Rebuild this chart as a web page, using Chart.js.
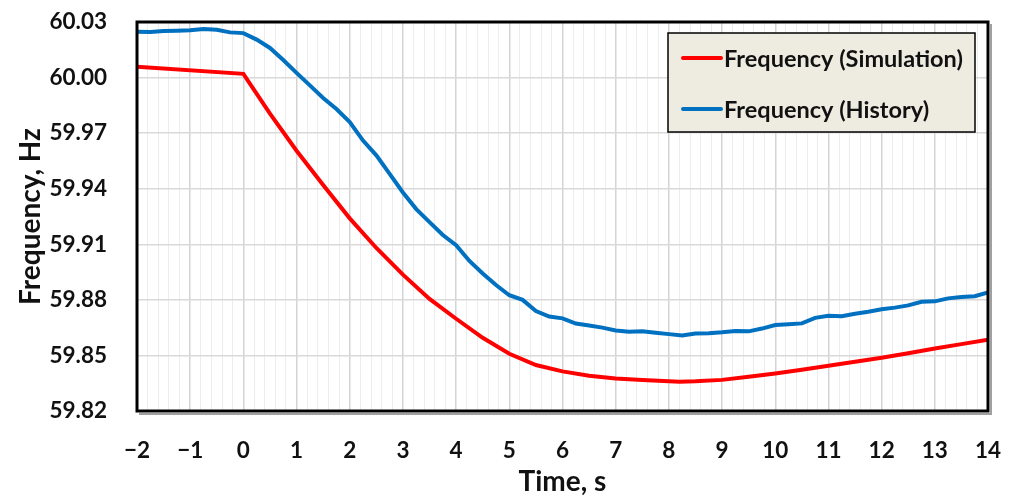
<!DOCTYPE html>
<html>
<head>
<meta charset="utf-8">
<script src="https://cdn.jsdelivr.net/npm/chart.js@4/dist/chart.umd.min.js"></script>
<style>
html,body{margin:0;padding:0;background:#fff;}
#wrap{width:1013px;height:499px;position:relative;}
</style>
</head>
<body>
<div id="wrap"><canvas id="c" width="1013" height="499"></canvas></div>
<script>
// ---- data ----
const simTime = [-2, 0, 0.5, 1, 1.5, 2, 2.5, 3, 3.5, 4, 4.5, 5, 5.5, 6, 6.5, 7, 7.5, 8, 8.2, 8.5, 9, 9.5, 10, 10.5, 11, 11.5, 12, 12.5, 13, 13.5, 14];
const simFreq = [60.0058, 60.0020, 59.9805, 59.9605, 59.9420, 59.9240, 59.9080, 59.8936, 59.8805, 59.8698, 59.8595, 59.8509, 59.8448, 59.8414, 59.8390, 59.8375, 59.8368, 59.8360, 59.8358, 59.8360, 59.8368, 59.8385, 59.8403, 59.8423, 59.8444, 59.8466, 59.8488, 59.8512, 59.8537, 59.8561, 59.8585];

const histTime = [-2, -1.75, -1.5, -1.25, -1, -0.75, -0.5, -0.25, 0, 0.25, 0.5, 0.75, 1, 1.25, 1.5, 1.75, 2, 2.25, 2.5, 2.75, 3, 3.25, 3.5, 3.75, 4, 4.25, 4.5, 4.75, 5, 5.25, 5.5, 5.75, 6, 6.25, 6.5, 6.75, 7, 7.25, 7.5, 7.75, 8, 8.25, 8.5, 8.75, 9, 9.25, 9.5, 9.75, 10, 10.25, 10.5, 10.75, 11, 11.25, 11.5, 11.75, 12, 12.25, 12.5, 12.75, 13, 13.25, 13.5, 13.75, 14];
const histFreq = [60.0248, 60.0246, 60.0251, 60.0253, 60.0256, 60.0262, 60.0258, 60.0244, 60.0240, 60.0205, 60.0160, 60.0095, 60.0025, 59.9958, 59.9890, 59.9830, 59.9760, 59.9660, 59.9580, 59.9480, 59.9380, 59.9290, 59.9220, 59.9150, 59.9095, 59.9010, 59.8942, 59.8880, 59.8825, 59.8800, 59.8740, 59.8710, 59.8700, 59.8672, 59.8662, 59.8650, 59.8635, 59.8628, 59.8630, 59.8622, 59.8615, 59.8608, 59.8618, 59.8620, 59.8625, 59.8632, 59.8630, 59.8645, 59.8664, 59.8668, 59.8673, 59.8703, 59.8714, 59.8712, 59.8725, 59.8736, 59.8749, 59.8758, 59.8770, 59.8790, 59.8792, 59.8808, 59.8815, 59.8820, 59.8840];

const yTicks = [59.82, 59.85, 59.88, 59.91, 59.94, 59.97, 60.00, 60.03];
const xTickLabels = [-2, -1, 0, 1, 2, 3, 4, 5, 6, 7, 8, 9, 10, 11, 12, 13, 14];
const minorStep = 0.2;

const seriesNames = ['Frequency (Simulation)', 'Frequency (History)'];
const seriesColors = ['#FF0000', '#0070C0'];

const FONT = 'Lato, "Open Sans", sans-serif';

function pts(xs, ys){ return xs.map((x,i)=>({x:x, y:ys[i]})); }

const frame = {
  id: 'frame',
  afterDatasetsDraw(chart){
    const ctx = chart.ctx, a = chart.chartArea;
    ctx.save();
    ctx.strokeStyle = '#a0a0a0';
    ctx.lineWidth = 2;
    ctx.beginPath();
    ctx.moveTo(a.left+2, a.bottom+3);
    ctx.lineTo(a.right+3, a.bottom+3);
    ctx.lineTo(a.right+3, a.top+2);
    ctx.stroke();
    ctx.strokeStyle = '#000';
    ctx.lineWidth = 3;
    ctx.strokeRect(a.left, a.top, a.right - a.left, a.bottom - a.top);
    // legend
    const lx = 668, ly = 33, lw = 307, lh = 99;
    ctx.fillStyle = '#EEECE1';
    ctx.fillRect(lx, ly, lw, lh);
    ctx.strokeStyle = '#000';
    ctx.lineWidth = 1.5;
    ctx.strokeRect(lx, ly, lw, lh);
    const rows = [58, 109];
    chart.data.datasets.forEach((ds, i) => {
      const y = rows[i];
      ctx.strokeStyle = ds.borderColor;
      ctx.lineWidth = 4;
      ctx.lineCap = 'round';
      ctx.beginPath();
      ctx.moveTo(683, y);
      ctx.lineTo(721, y);
      ctx.stroke();
      ctx.fillStyle = '#111';
      ctx.font = 'bold 23.5px ' + FONT;
      ctx.textBaseline = 'middle';
      ctx.textAlign = 'left';
      ctx.fillText(ds.label, 724, y + 1);
    });
    ctx.restore();
  }
};

const isInt = v => Math.abs(v - Math.round(v)) < 1e-6;

new Chart(document.getElementById('c'), {
  type: 'line',
  data: {
    datasets: [
      { label: seriesNames[0], data: pts(simTime, simFreq), borderColor: seriesColors[0], backgroundColor: seriesColors[0], borderWidth: 4, pointRadius: 0, tension: 0, fill: false },
      { label: seriesNames[1], data: pts(histTime, histFreq), borderColor: seriesColors[1], backgroundColor: seriesColors[1], borderWidth: 4, pointRadius: 0, tension: 0, fill: false }
    ]
  },
  options: {
    responsive: false,
    animation: false,
    devicePixelRatio: 1,
    layout: { padding: { top: 22, right: 25, left: 0, bottom: 0 } },
    plugins: { legend: { display: false }, tooltip: { enabled: false } },
    scales: {
      x: {
        type: 'linear',
        min: xTickLabels[0],
        max: xTickLabels[xTickLabels.length - 1],
        afterBuildTicks(scale){
          const t = [];
          const lo = xTickLabels[0], hi = xTickLabels[xTickLabels.length-1];
          const n = Math.round((hi - lo) / minorStep);
          for (let i = 0; i <= n; i++) t.push({ value: +(lo + i * minorStep).toFixed(4) });
          scale.ticks = t;
        },
        afterFit(scale){ scale.height = 88; scale.paddingLeft = 0; scale.paddingRight = 0; },
        border: { display: false },
        grid: {
          drawTicks: false,
          color: ctx => isInt(ctx.tick.value) ? '#d4d4d4' : '#ececec',
          lineWidth: ctx => isInt(ctx.tick.value) ? 1.5 : 1
        },
        ticks: {
          autoSkip: false,
          maxRotation: 0,
          padding: 26,
          color: '#111',
          font: { family: FONT, size: 22.5, weight: 'bold' },
          callback: v => isInt(v) && xTickLabels.includes(Math.round(v)) ? (v < 0 ? '\u2212' + Math.abs(Math.round(v)) : String(Math.round(v))) : ''
        },
        title: { display: true, text: 'Time, s', color: '#111', font: { family: FONT, size: 28, weight: 'bold' }, padding: { top: 0, bottom: 0 } }
      },
      y: {
        type: 'linear',
        min: yTicks[0],
        max: yTicks[yTicks.length - 1],
        afterBuildTicks(scale){ scale.ticks = yTicks.map(v => ({ value: v })); },
        afterFit(scale){ scale.width = 137; scale.paddingTop = 0; scale.paddingBottom = 0; },
        border: { display: false },
        grid: { drawTicks: false, color: '#d9d9d9', lineWidth: 1.5 },
        ticks: {
          padding: 30,
          color: '#111',
          font: { family: FONT, size: 22.5, weight: 'bold' },
          callback: v => Number(v).toFixed(2)
        },
        title: { display: true, text: 'Frequency, Hz', color: '#111', font: { family: FONT, size: 28, weight: 'bold' }, padding: { top: 14, bottom: 0 } }
      }
    }
  },
  plugins: [frame]
});
</script>
</body>
</html>
